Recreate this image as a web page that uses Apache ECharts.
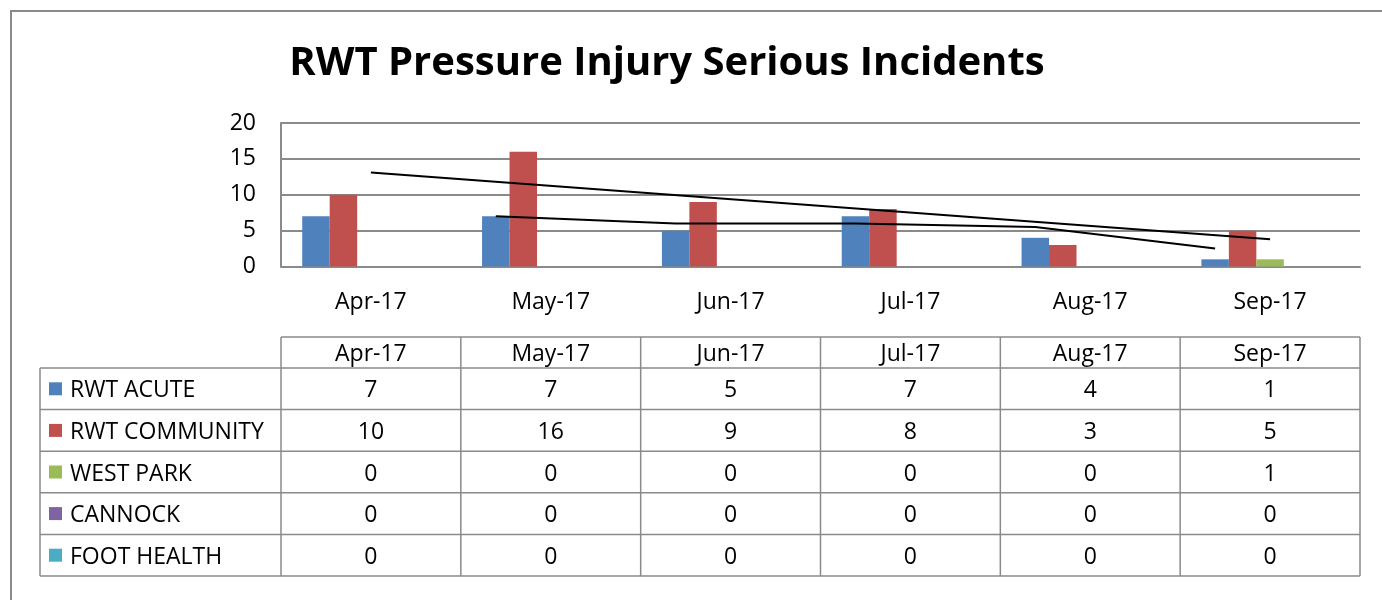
<!DOCTYPE html>
<html>
<head>
<meta charset="utf-8">
<script src="https://cdn.jsdelivr.net/npm/echarts@6/dist/echarts.min.js"></script>
<style>
  html, body { margin: 0; padding: 0; background: #fff; }
  #main { width: 1382px; height: 600px; }
</style>
</head>
<body>
<div id="main"></div>
<script>
// data
const months = ["Apr-17", "May-17", "Jun-17", "Jul-17", "Aug-17", "Sep-17"]
const seriesNames = ["RWT ACUTE", "RWT COMMUNITY", "WEST PARK", "CANNOCK", "FOOT HEALTH"]
const rwtAcute = [7, 7, 5, 7, 4, 1]
const rwtCommunity = [10, 16, 9, 8, 3, 5]
const westPark = [0, 0, 0, 0, 0, 1]
const cannock = [0, 0, 0, 0, 0, 0]
const footHealth = [0, 0, 0, 0, 0, 0]
const yTicks = [0, 5, 10, 15, 20]
// linear trend of community (first and last month) and 2-month moving average of acute
const communityTrend = [13.1, null, null, null, null, 3.8]
const acuteMovingAvg = [null, 7, 6, 6, 5.5, 2.5]

const colors = ["#4F81BD", "#C0504D", "#9BBB59", "#8064A2", "#4BACC6"]
const allValues = [rwtAcute, rwtCommunity, westPark, cannock, footHealth]

const font = "Open Sans"
const fs = 23
const gridLeft = 281, gridTop = 123, gridW = 1079, gridH = 143.5
const colW = gridW / months.length
const barW = colW * (1 - 0.236) / seriesNames.length
const lineGray = "#8a8a8a"

// trend lines sit on a hidden value axis in "category units"
const trendData = communityTrend
  .map((v, i) => (v == null ? null : [i + 0.5, v]))
  .filter(d => d)
const acuteOffset = -2 * barW / colW
const maData = acuteMovingAvg
  .map((v, i) => (v == null ? null : [i + 0.5 + acuteOffset, v]))
  .filter(d => d)

// data table under the chart
function buildTable() {
  const els = []
  const headTop = 337, headH = 31, rowH = 41.6
  const labelLeft = 40
  const right = gridLeft + gridW
  const bottom = headTop + headH + rowH * seriesNames.length
  const stroke = { stroke: lineGray, lineWidth: 1.5 }
  const txt = (text, x, y, align) => ({
    type: "text",
    style: { text: text, x: x, y: y + 2, align: align, verticalAlign: "middle", fontSize: fs, fontFamily: font, fill: "#000" }
  })
  // horizontal lines
  els.push({ type: "line", shape: { x1: gridLeft, y1: headTop, x2: right, y2: headTop }, style: stroke })
  for (let r = 0; r <= seriesNames.length; r++) {
    const y = headTop + headH + rowH * r
    els.push({ type: "line", shape: { x1: labelLeft, y1: y, x2: right, y2: y }, style: stroke })
  }
  // vertical lines
  els.push({ type: "line", shape: { x1: labelLeft, y1: headTop + headH, x2: labelLeft, y2: bottom }, style: stroke })
  for (let c = 0; c <= months.length; c++) {
    const x = gridLeft + colW * c
    els.push({ type: "line", shape: { x1: x, y1: headTop, x2: x, y2: bottom }, style: stroke })
  }
  // header
  months.forEach((m, c) => {
    els.push(txt(m, gridLeft + colW * (c + 0.5), headTop + headH / 2, "center"))
  })
  // rows
  seriesNames.forEach((name, r) => {
    const cy = headTop + headH + rowH * (r + 0.5)
    els.push({ type: "rect", shape: { x: 49, y: cy - 6.5, width: 13, height: 13 }, style: { fill: colors[r] } })
    els.push(txt(name, 70, cy, "left"))
    allValues[r].forEach((v, c) => {
      els.push(txt(String(v), gridLeft + colW * (c + 0.5), cy, "center"))
    })
  })
  // outer frame
  els.push({ type: "rect", shape: { x: 11, y: 11, width: 1500, height: 700 }, style: { fill: "none", stroke: lineGray, lineWidth: 2 } })
  return els
}

const myChart = echarts.init(document.getElementById("main"))
myChart.setOption({
  animation: false,
  title: {
    text: "RWT Pressure Injury Serious Incidents",
    left: 662,
    textAlign: "center",
    top: 39,
    textStyle: { fontFamily: font, fontSize: 40, fontWeight: "bold", color: "#000" }
  },
  grid: { left: gridLeft, top: gridTop, width: gridW, height: gridH },
  xAxis: [
    {
      type: "category",
      data: months,
      axisLine: { lineStyle: { color: lineGray, width: 2 } },
      axisTick: { show: false },
      axisLabel: { fontFamily: font, fontSize: fs, color: "#000", margin: 24 }
    },
    { type: "value", min: 0, max: months.length, show: false }
  ],
  yAxis: {
    type: "value",
    min: yTicks[0],
    max: yTicks[yTicks.length - 1],
    interval: 5,
    axisLine: { show: true, lineStyle: { color: lineGray, width: 2 } },
    axisTick: { show: false },
    splitLine: { lineStyle: { color: lineGray, width: 2 } },
    axisLabel: { fontFamily: font, fontSize: fs, color: "#000", margin: 25 }
  },
  series: [
    ...seriesNames.map((name, i) => ({
      name: name,
      type: "bar",
      data: allValues[i],
      barGap: "0%",
      barCategoryGap: "23.6%",
      itemStyle: { color: colors[i] }
    })),
    {
      name: "trend",
      type: "line",
      xAxisIndex: 1,
      data: trendData,
      symbol: "none",
      lineStyle: { color: "#000", width: 2 }
    },
    {
      name: "moving avg",
      type: "line",
      xAxisIndex: 1,
      data: maData,
      symbol: "none",
      lineStyle: { color: "#000", width: 2 }
    }
  ],
  graphic: buildTable()
})
</script>
</body>
</html>
